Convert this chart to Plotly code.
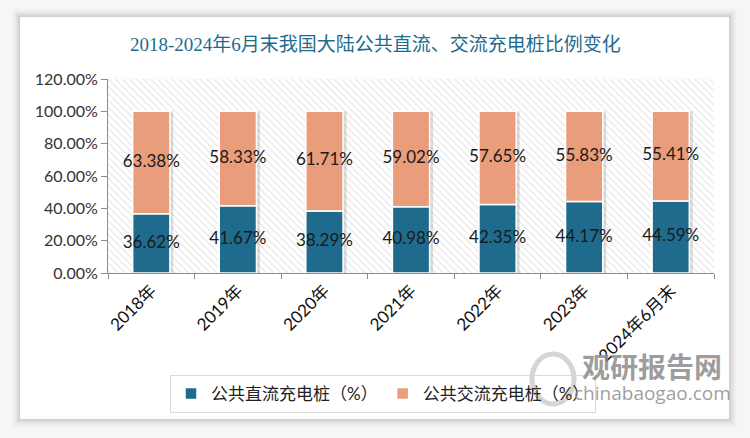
import plotly.graph_objects as go

categories = ["2018年", "2019年", "2020年", "2021年", "2022年", "2023年", "2024年6月末"]
dc_share = [36.62, 41.67, 38.29, 40.98, 42.35, 44.17, 44.59]
ac_share = [63.38, 58.33, 61.71, 59.02, 57.65, 55.83, 55.41]
y_ticks = [0, 20, 40, 60, 80, 100, 120]
y_tick_labels = ["0.00%", "20.00%", "40.00%", "60.00%", "80.00%", "100.00%", "120.00%"]

title_text = "2018-2024年6月末我国大陆公共直流、交流充电桩比例变化"
dc_name = "公共直流充电桩（%）"
ac_name = "公共交流充电桩（%）"

DC_COLOR = "#1F6B8E"
AC_COLOR = "#E99D7B"
FONT = "Lato, Noto Sans CJK SC, sans-serif"
W, H = 750, 438

totals = [d + a for d, a in zip(dc_share, ac_share)]
dc_mid = [d / 2 for d in dc_share]
ac_mid = [d + a / 2 for d, a in zip(dc_share, ac_share)]
bw = 0.43

fig = go.Figure()

# hatched plot-area background (on hidden base axis x)
fig.add_trace(go.Bar(
    x=[0.5], y=[max(y_ticks)], width=[1], xaxis="x", yaxis="y",
    marker=dict(color="white", line=dict(width=0),
                pattern=dict(shape="\\", fgcolor="#cccccc", bgcolor="white",
                             size=5, solidity=0.22)),
    showlegend=False, hoverinfo="skip"))

# bar shadows
fig.add_trace(go.Bar(
    x=categories, y=totals, width=bw, offset=-bw / 2 + 0.04, xaxis="x2",
    marker=dict(color="rgba(0,0,0,0.13)", line=dict(width=0)),
    showlegend=False, hoverinfo="skip"))

fig.add_trace(go.Bar(
    x=categories, y=dc_share, width=bw, name=dc_name, xaxis="x2",
    marker=dict(color=DC_COLOR, line=dict(color="white", width=1.5))))
fig.add_trace(go.Bar(
    x=categories, y=ac_share, base=dc_share, width=bw, name=ac_name, xaxis="x2",
    marker=dict(color=AC_COLOR, line=dict(color="white", width=1.5))))

# value labels
fig.add_trace(go.Scatter(
    x=categories, y=dc_mid, mode="text", xaxis="x2",
    text=[f"{v:.2f}%" for v in dc_share],
    textfont=dict(family=FONT, size=17, color="#1a1a1a"),
    showlegend=False, hoverinfo="skip"))
fig.add_trace(go.Scatter(
    x=categories, y=ac_mid, mode="text", xaxis="x2",
    text=[f"{v:.2f}%" for v in ac_share],
    textfont=dict(family=FONT, size=17, color="#1a1a1a"),
    showlegend=False, hoverinfo="skip"))

shapes = []
# card shadow
for i, a in enumerate([0.015, 0.02, 0.03, 0.04, 0.05]):
    g = 8 - i * 1.6
    shapes.append(dict(type="rect", xref="paper", yref="paper", layer="below",
                       x0=(20 - g) / W, x1=(729 + g) / W,
                       y0=1 - (419 + g) / H, y1=1 - (17 - g) / H,
                       line=dict(width=0), fillcolor=f"rgba(0,0,0,{a})"))
shapes.append(dict(type="rect", xref="paper", yref="paper", layer="below",
                   x0=20 / W, x1=729 / W, y0=1 - 419 / H, y1=1 - 17 / H,
                   line=dict(width=0), fillcolor="white"))
# watermark logo ring
shapes.append(dict(type="circle", xref="paper", yref="paper", layer="above",
                   x0=532 / W, x1=574 / W, y0=1 - 404 / H, y1=1 - 354 / H,
                   line=dict(color="rgba(150,150,150,0.4)", width=5)))

annotations = [
    dict(text=title_text, x=0.5, y=1 - 44 / H, xref="paper", yref="paper",
         xanchor="center", yanchor="middle", showarrow=False,
         font=dict(family="Liberation Serif, DejaVu Serif, Noto Sans CJK SC, serif",
                   size=19, color="#1F6B8E")),
    dict(text="<b>观研报告网</b>", x=652 / W, y=1 - 366 / H, xref="paper", yref="paper",
         xanchor="center", yanchor="middle", showarrow=False,
         font=dict(family="Noto Sans CJK SC", size=28, color="rgba(140,140,140,0.85)")),
    dict(text="chinabaogao.com", x=652 / W, y=1 - 393 / H, xref="paper", yref="paper",
         xanchor="center", yanchor="middle", showarrow=False,
         font=dict(family="Open Sans", size=19, color="rgba(140,140,140,0.85)")),
]

fig.update_layout(
    width=W, height=H,
    margin=dict(l=0, r=0, t=0, b=0, pad=0, autoexpand=False),
    paper_bgcolor="#f6f6f6",
    plot_bgcolor="rgba(0,0,0,0)",
    barmode="overlay",
    showlegend=True,
    hovermode=False,
    legend=dict(orientation="h", x=383 / W, y=1 - 394 / H, xanchor="center", yanchor="middle",
                bordercolor="#d9d9d9", borderwidth=1, bgcolor="rgba(255,255,255,0)",
                font=dict(family=FONT, size=17, color="#222"),
                traceorder="normal"),
    xaxis=dict(domain=[108 / W, 714 / W], range=[0, 1], visible=False, showgrid=False,
               fixedrange=True, automargin=False),
    xaxis2=dict(overlaying="x", type="category", categoryorder="array",
                categoryarray=categories, tickangle=-45, tickson="boundaries",
                ticks="outside", ticklen=5, tickcolor="#8c8c8c", anchor="y",
                showline=True, linecolor="#8c8c8c", linewidth=1, automargin=False,
                tickfont=dict(family=FONT, size=17, color="#111"), showgrid=False),
    yaxis=dict(domain=[1 - 273 / H, 1 - 79 / H], range=[0, 120], tickvals=y_ticks,
               ticktext=y_tick_labels, ticks="outside", ticklen=6, automargin=False,
               tickcolor="#8c8c8c", showline=True, linecolor="#8c8c8c", linewidth=1,
               showgrid=False, zeroline=False,
               tickfont=dict(family=FONT, size=16, color="#333")),
    shapes=shapes,
    annotations=annotations,
)

fig.write_html("out.html", config={"displayModeBar": False},
               post_script="document.body.style.margin='0';")
